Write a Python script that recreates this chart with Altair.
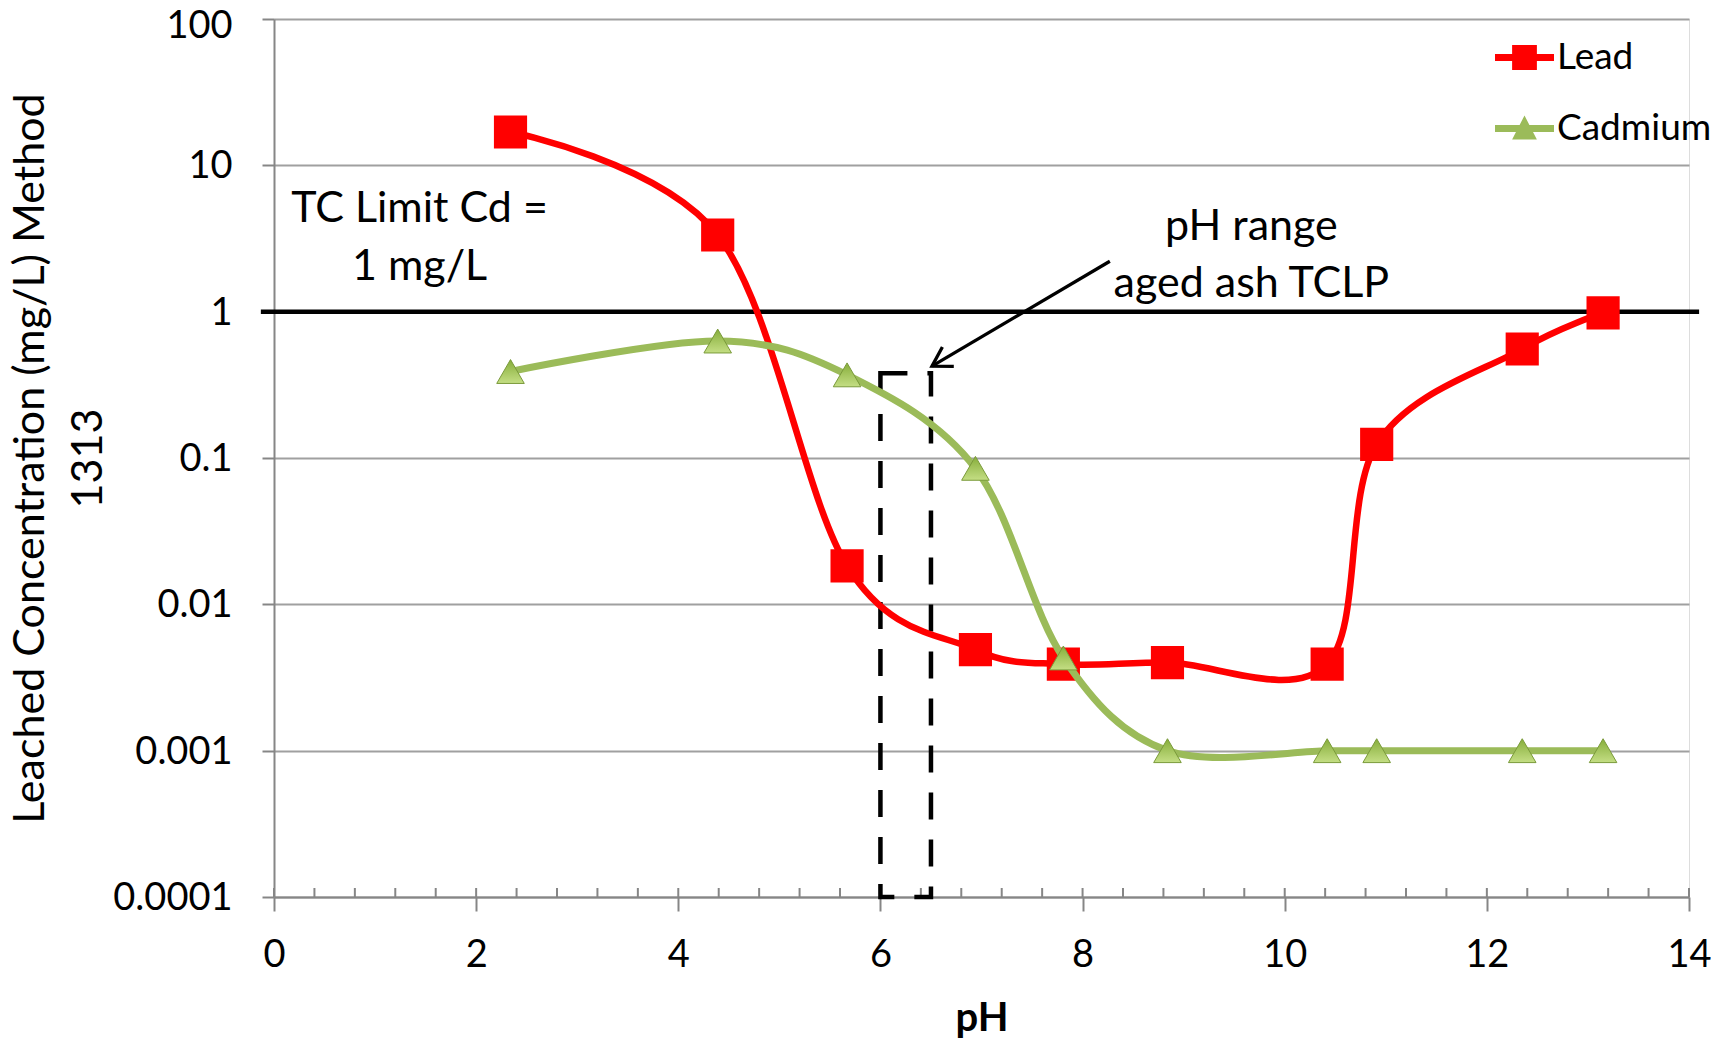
import altair as alt
import pandas as pd

# ---- data ----
ph_values = [2.34, 4.39, 5.67, 6.94, 7.81, 8.84, 10.42, 10.91, 12.35, 13.15]
lead_values = [16.9, 3.34, 0.0183, 0.0049, 0.0039, 0.0040, 0.0039, 0.124, 0.556, 0.98]
cadmium_values = [0.39, 0.63, 0.37, 0.085, 0.0043, 0.001, 0.001, 0.001, 0.001, 0.001]
series_names = ["Lead", "Cadmium"]
series_colors = ["#FF0000", "#9BBB59"]

x_major_ticks = [0, 2, 4, 6, 8, 10, 12, 14]
x_minor_ticks = [0, 0.4, 0.8, 1.2, 1.6, 2, 2.4, 2.8, 3.2, 3.6, 4, 4.4, 4.8, 5.2, 5.6, 6,
                 6.4, 6.8, 7.2, 7.6, 8, 8.4, 8.8, 9.2, 9.6, 10, 10.4, 10.8, 11.2, 11.6,
                 12, 12.4, 12.8, 13.2, 13.6, 14]
y_ticks = [0.0001, 0.001, 0.01, 0.1, 1, 10, 100]

tc_limit_ph = [-0.13, 14.1]
tc_limit_value = 1.0
box_ph = [6.0, 6.5]
box_conc = [0.0001, 0.38]
arrow_ph = [8.27, 6.51]
arrow_conc = [2.21, 0.424]
note_text = ["TC Limit Cd =", "1 mg/L", "pH range", "aged ash TCLP"]
note_ph = [1.44, 1.44, 9.67, 9.67]
note_conc = [5.06, 2.03, 3.78, 1.54]

# ---- tables ----
df = pd.DataFrame({
    "series": ["Lead"] * len(ph_values) + ["Cadmium"] * len(ph_values),
    "pH": ph_values + ph_values,
    "conc": lead_values + cadmium_values,
})
minor_df = pd.DataFrame({"pH": x_minor_ticks, "conc": [y_ticks[0]] * len(x_minor_ticks)})
limit_df = pd.DataFrame({"pH": [tc_limit_ph[0]], "pH2": [tc_limit_ph[1]], "conc": [tc_limit_value]})
box_df = pd.DataFrame({"pH": [box_ph[0]], "pH2": [box_ph[1]], "conc": [box_conc[0]], "conc2": [box_conc[1]]})
arrow_df = pd.DataFrame({"pH": [arrow_ph[0]], "pH2": [arrow_ph[1]], "conc": [arrow_conc[0]], "conc2": [arrow_conc[1]]})
head_df = pd.DataFrame({"pH": [arrow_ph[1]], "conc": [arrow_conc[1]]})
note_df = pd.DataFrame({"text": note_text, "pH": note_ph, "conc": note_conc})

FONT = "Lato"
TXT = 43
TICK = 38
W, H = 1415, 878
xs = alt.Scale(domain=[0, 14], nice=False, zero=False)
ys = alt.Scale(type="log", domain=[0.0001, 100], nice=False)
GRAY = "#868686"

x_axis = alt.Axis(
    values=x_major_ticks, format="d", grid=False, labelFlush=False,
    tickSize=14, tickWidth=2, tickColor=GRAY, domainColor=GRAY, domainWidth=2,
    labelFontSize=TICK, labelPadding=25, labelColor="black", labelFont=FONT,
    title="pH", titleFontSize=40, titleFontWeight="bold", titleFont=FONT, titleColor="black",
    titleX=W / 2, titleY=121, titleBaseline="middle",
)
y_axis = alt.Axis(
    values=y_ticks, format="~g", grid=True, gridColor="#A0A0A0", gridWidth=2,
    tickSize=12, tickWidth=2, tickColor=GRAY, domainColor=GRAY, domainWidth=2,
    labelFontSize=TICK, labelPadding=30, labelColor="black", labelFont=FONT,
    labelFlush=False,
    labelOffset={"condition": {"test": "datum.value >= 100", "value": 7}, "value": 1.5},
    title=["Leached Concentration (mg/L) Method", "1313"], titleFontSize=TXT,
    titleFontWeight="normal", titleFont=FONT, titleColor="black",
    titleX=-244, titleY=H / 2, titleBaseline="middle", titleLineHeight=58, titleAngle=270,
)


def X(f="pH"):
    return alt.X(f, type="quantitative", scale=xs, axis=x_axis)


def Y(f="conc"):
    return alt.Y(f, type="quantitative", scale=ys, axis=y_axis)


base = alt.Chart(df)

limit_layer = alt.Chart(limit_df).mark_rule(color="black", strokeWidth=4.5).encode(
    x=X(), x2="pH2:Q", y=Y(),
)

minor_layer = alt.Chart(minor_df).mark_rule(color=GRAY, strokeWidth=2, y2Offset=-9).encode(
    x=X(), y=Y(), y2="conc:Q",
)

lead_line = base.transform_filter(alt.datum.series == "Lead").mark_line(
    color=series_colors[0], strokeWidth=6.5, interpolate="cardinal"
).encode(x=X(), y=Y())

lead_pts = base.transform_filter(alt.datum.series == "Lead").mark_point(
    shape="square", filled=True, color=series_colors[0], size=1100, opacity=1
).encode(x=X(), y=Y())

cd_line = base.transform_filter(alt.datum.series == "Cadmium").mark_line(
    color=series_colors[1], strokeWidth=7, interpolate="cardinal"
).encode(x=X(), y=Y())

tri_fill = alt.Gradient(
    gradient="linear", x1=0, y1=0, x2=0, y2=1,
    stops=[alt.GradientStop(color="#86AD3A", offset=0), alt.GradientStop(color="#C4DE84", offset=1)],
)
cd_pts = base.transform_filter(alt.datum.series == "Cadmium").mark_point(
    shape="triangle-up", filled=True, fill=tri_fill, stroke="#7A9A3A", strokeWidth=1,
    size=760, opacity=1
).encode(x=X(), y=Y())

box_layer = alt.Chart(box_df).mark_rect(
    fillOpacity=0, stroke="black", strokeWidth=4.5, strokeDash=[27, 20]
).encode(x=X(), x2="pH2:Q", y=Y(), y2="conc2:Q")

arrow_layer = alt.Chart(arrow_df).mark_rule(color="black", strokeWidth=3.3).encode(
    x=X(), x2="pH2:Q", y=Y(), y2="conc2:Q",
)
head_layer = alt.Chart(head_df).mark_point(
    shape="M-1,-0.6 L0,0 L-1,0.6", filled=False, stroke="black", strokeWidth=3.3,
    size=1400, angle=149.5, opacity=1
).encode(x=X(), y=Y())

note_layer = alt.Chart(note_df).mark_text(
    font=FONT, fontSize=TXT, color="black", align="center", baseline="middle"
).encode(x=X(), y=Y(), text="text:N")

legend_paths = [
    "M-1,-0.12 L1,-0.12 L1,0.12 L-1,0.12 Z M-0.42,-0.42 L0.42,-0.42 L0.42,0.42 L-0.42,0.42 Z",
    "M-1,-0.12 L1,-0.12 L1,0.12 L-1,0.12 Z M0,-0.44 L0.42,0.37 L-0.42,0.37 Z",
]
legend_def = alt.Legend(
    orient="none", legendX=1221, legendY=9, title=None, padding=0,
    symbolSize=3481, symbolOpacity=1, symbolStrokeWidth=0,
    labelFontSize=37, labelFont=FONT, labelColor="black", labelOffset=3, labelLimit=400,
    rowPadding=23, direction="vertical",
)
legend_layer = base.mark_point(filled=True, size=3481).encode(
    x=X(), y=Y(),
    color=alt.Color("series:N", scale=alt.Scale(domain=series_names, range=series_colors), legend=legend_def),
    shape=alt.Shape("series:N", scale=alt.Scale(domain=series_names, range=legend_paths), legend=legend_def),
    opacity=alt.value(0),
)

chart = alt.layer(
    limit_layer, minor_layer, box_layer, arrow_layer, head_layer,
    lead_line, lead_pts, cd_line, cd_pts, note_layer, legend_layer,
).properties(
    width=W, height=H,
    autosize=alt.AutoSizeParams(type="none"),
    padding={"left": 266, "top": 11, "right": 22, "bottom": 143},
).configure_view(strokeWidth=0).configure(font=FONT)

chart.save("out.html", embed_options={"renderer": "svg", "actions": False})
